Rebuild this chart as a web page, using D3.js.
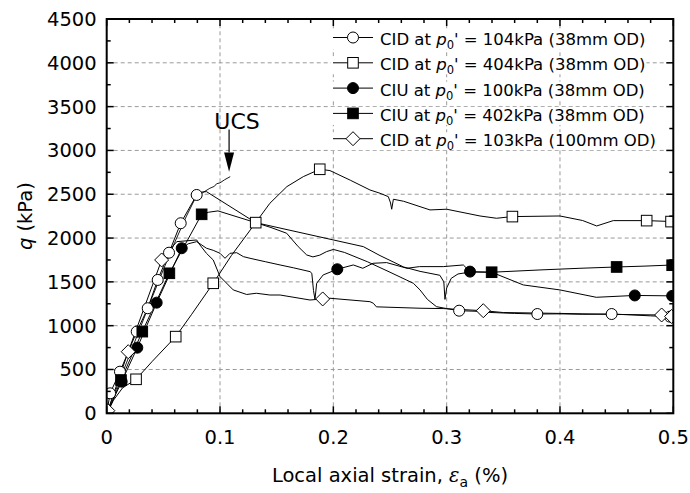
<!DOCTYPE html>
<html>
<head>
<meta charset="utf-8">
<script src="https://cdn.jsdelivr.net/npm/d3@7"></script>
<style>
  body { margin: 0; background: #fff; }
  text { font-family: "DejaVu Sans", Verdana, sans-serif; fill: #000; }
</style>
</head>
<body>
<svg id="chart" width="690" height="493"></svg>
<script>
// Axis ticks
const xTicks = [0, 0.1, 0.2, 0.3, 0.4, 0.5];
const yTicks = [0, 500, 1000, 1500, 2000, 2500, 3000, 3500, 4000, 4500];

// Legend entries: test type, confining pressure, specimen size
const legendTests = ["CID", "CID", "CIU", "CIU", "CID"];
const legendPressures = ["104kPa", "404kPa", "100kPa", "402kPa", "103kPa"];
const legendSizes = ["(38mm OD)", "(38mm OD)", "(38mm OD)", "(38mm OD)", "(100mm OD)"];

// Series: [local axial strain (%), q (kPa)]
const cid104Line = [[0,0],[0.003,228],[0.0117,475],[0.019,700],[0.0265,932],[0.0362,1199],[0.045,1522],[0.055,1833],[0.0653,2169],[0.0794,2492],[0.084,2525],[0.088,2530],[0.1,2432],[0.1315,2176],[0.145,2120],[0.1588,2055],[0.169,1902],[0.1765,1807],[0.182,1785],[0.188,1805],[0.194,1845],[0.2,1870],[0.21,1835],[0.23,1730],[0.25,1610],[0.2706,1484],[0.2765,1408],[0.283,1300],[0.291,1217],[0.3,1195],[0.311,1171],[0.325,1165],[0.34,1150],[0.36,1140],[0.38,1133],[0.4,1135],[0.42,1130],[0.4456,1133],[0.46,1125],[0.48,1112],[0.497,1103],[0.5,1090]];
const cid104Marks = [[0.003,228],[0.0117,475],[0.0265,932],[0.0362,1199],[0.045,1522],[0.055,1833],[0.0653,2169],[0.0794,2492],[0.311,1171],[0.38,1133],[0.4456,1133],[0.497,1103]];

const cid404Line = [[0,0],[0.006,150],[0.014,290],[0.0259,388],[0.04,590],[0.0609,875],[0.075,1130],[0.094,1484],[0.11,1800],[0.1315,2176],[0.144,2397],[0.159,2587],[0.1735,2701],[0.188,2785],[0.197,2770],[0.215,2660],[0.2323,2549],[0.2412,2511],[0.2485,2473],[0.2505,2400],[0.2515,2329],[0.253,2443],[0.262,2420],[0.2853,2321],[0.3,2329],[0.3294,2252],[0.344,2226],[0.358,2245],[0.4,2252],[0.42,2200],[0.4324,2138],[0.447,2199],[0.4765,2199],[0.5,2188]];
const cid404Marks = [[0.0259,388],[0.0609,875],[0.094,1484],[0.1315,2176],[0.188,2785],[0.358,2245],[0.4765,2199],[0.498,2188]];

const ciu100Line = [[0,0],[0.0132,361],[0.027,749],[0.0441,1263],[0.0662,1884],[0.072,1935],[0.0794,1959],[0.084,1920],[0.088,1884],[0.094,1860],[0.1,1826],[0.1044,1769],[0.1088,1826],[0.1147,1833],[0.1206,1788],[0.1265,1769],[0.14,1730],[0.153,1693],[0.165,1660],[0.1794,1617],[0.181,1598],[0.1825,1400],[0.1838,1300],[0.1853,1484],[0.191,1579],[0.2035,1644],[0.2176,1693],[0.226,1655],[0.235,1712],[0.247,1720],[0.265,1655],[0.276,1674],[0.297,1674],[0.3147,1693],[0.3206,1617],[0.3397,1610],[0.3676,1465],[0.4,1408],[0.432,1324],[0.466,1345],[0.5,1340]];
const ciu100Marks = [[0.0132,361],[0.027,749],[0.0441,1263],[0.0662,1884],[0.2035,1644],[0.3206,1617],[0.466,1345],[0.499,1340]];

const ciu402Line = [[0,0],[0.004,100],[0.0126,380],[0.0314,932],[0.0553,1598],[0.0838,2271],[0.09,2295],[0.0982,2310],[0.1315,2176],[0.2265,1902],[0.2412,1800],[0.262,1670],[0.2765,1620],[0.294,1575],[0.2975,1500],[0.2985,1300],[0.3,1430],[0.304,1540],[0.31,1590],[0.3206,1612],[0.3397,1610],[0.3823,1636],[0.4176,1655],[0.45,1670],[0.475,1680],[0.5,1693]];
const ciu402Marks = [[0.0126,380],[0.0314,932],[0.0553,1598],[0.0838,2271],[0.3397,1610],[0.45,1670],[0.499,1690]];

const cid103Line = [[0,0],[0.001,30],[0.019,703],[0.0485,1750],[0.0618,1959],[0.0794,1978],[0.0823,1921],[0.088,1826],[0.094,1750],[0.1,1560],[0.1117,1408],[0.1235,1356],[0.132,1370],[0.144,1350],[0.153,1350],[0.1794,1293],[0.1906,1305],[0.197,1313],[0.2323,1274],[0.2353,1256],[0.238,1215],[0.2765,1199],[0.297,1195],[0.3323,1171],[0.35,1150],[0.4,1140],[0.45,1128],[0.4897,1122],[0.4985,1105],[0.5,1080]];
const cid103Marks = [[0.001,30],[0.019,703],[0.0485,1750],[0.1906,1305],[0.3323,1171],[0.4897,1122],[0.4985,1105]];

// Unconfined compression test trace
const ucsLine = [[0,0],[0.01,330],[0.02,660],[0.03,990],[0.04,1320],[0.05,1640],[0.06,1950],[0.07,2240],[0.078,2450],[0.085,2520],[0.091,2568],[0.095,2590],[0.097,2620],[0.1,2630],[0.104,2665],[0.109,2701]];
// Annotation arrow: shaft top, head top and tip (strain, q)
const ucsArrow = { x: 0.108, top: 3240, head: 2975, tip: 2758 };

const svg = d3.select("#chart");
const W = 690, H = 493;
const m = { left: 106.7, right: 690 - 673.3, top: 19, bottom: 493 - 413.3 };

const x = d3.scaleLinear().domain([0, 0.5]).range([m.left, W - m.right]);
const y = d3.scaleLinear().domain([0, 4500]).range([H - m.bottom, m.top]);
const x0 = x.range()[0], x1 = x.range()[1], y0 = y.range()[0], y1 = y.range()[1];

svg.append("rect").attr("width", W).attr("height", H).attr("fill", "#fff");

// Grid
const grid = svg.append("g").attr("stroke", "#9a9a9a").attr("stroke-width", 1).attr("stroke-dasharray", "4,3");
xTicks.filter(d => d > 0 && d < 0.5).forEach(d => {
  grid.append("line").attr("x1", x(d)).attr("x2", x(d)).attr("y1", y0).attr("y2", y1);
});
yTicks.filter(d => d > 0 && d < 4500).forEach(d => {
  grid.append("line").attr("x1", x0).attr("x2", x1).attr("y1", y(d)).attr("y2", y(d));
});

// Clip to plot area
svg.append("clipPath").attr("id", "plotClip").append("rect")
  .attr("x", x0).attr("y", y1).attr("width", x1 - x0).attr("height", y0 - y1);
const plot = svg.append("g").attr("clip-path", "url(#plotClip)");

const line = d3.line().x(d => x(d[0])).y(d => y(d[1]));

// Marker shapes
function drawMarker(g, type, cx, cy) {
  const s = 5.3;
  if (type === "circle" || type === "dot") {
    g.append("circle").attr("cx", cx).attr("cy", cy).attr("r", 5.5)
      .attr("fill", type === "dot" ? "#000" : "#fff").attr("stroke", "#000").attr("stroke-width", 1);
  } else if (type === "square" || type === "block") {
    g.append("rect").attr("x", cx - s).attr("y", cy - s).attr("width", 2 * s).attr("height", 2 * s)
      .attr("fill", type === "block" ? "#000" : "#fff").attr("stroke", "#000").attr("stroke-width", 1);
  } else if (type === "diamond") {
    const d = 7;
    g.append("path").attr("d", `M${cx},${cy - d}L${cx + d},${cy}L${cx},${cy + d}L${cx - d},${cy}Z`)
      .attr("fill", "#fff").attr("stroke", "#000").attr("stroke-width", 1);
  }
}

const series = [
  { line: cid104Line, marks: cid104Marks, type: "circle" },
  { line: cid404Line, marks: cid404Marks, type: "square" },
  { line: ciu100Line, marks: ciu100Marks, type: "dot" },
  { line: ciu402Line, marks: ciu402Marks, type: "block" },
  { line: cid103Line, marks: cid103Marks, type: "diamond" }
];

plot.append("path").datum(ucsLine).attr("d", line)
  .attr("fill", "none").attr("stroke", "#000").attr("stroke-width", 0.9);

series.forEach(s => {
  plot.append("path").datum(s.line).attr("d", line)
    .attr("fill", "none").attr("stroke", "#000").attr("stroke-width", 1).attr("stroke-linejoin", "round");
});
series.forEach(s => {
  const g = plot.append("g");
  s.marks.forEach(p => drawMarker(g, s.type, x(p[0]), y(p[1])));
});

// UCS annotation
const ax = x(ucsArrow.x);
svg.append("line").attr("x1", ax).attr("x2", ax).attr("y1", y(ucsArrow.top)).attr("y2", y(ucsArrow.head))
  .attr("stroke", "#000").attr("stroke-width", 1.2);
svg.append("path")
  .attr("d", `M${ax - 5},${y(ucsArrow.head)}L${ax + 5},${y(ucsArrow.head)}L${ax},${y(ucsArrow.tip)}Z`)
  .attr("fill", "#000");
svg.append("text").attr("x", ax + 8).attr("y", y(ucsArrow.top) - 0.5)
  .attr("text-anchor", "middle").attr("font-size", 22).text("UCS");

// Frame and ticks (inward, all four sides)
const ticks = svg.append("g").attr("stroke", "#000").attr("stroke-width", 1.5);
const xMinor = d3.range(0, 0.5001, 0.02).map(v => +v.toFixed(2));
const yMinor = d3.range(0, 4501, 250);
xMinor.forEach(v => {
  const major = xTicks.some(t => Math.abs(t - v) < 1e-6);
  const len = major ? 7 : 4;
  ticks.append("line").attr("x1", x(v)).attr("x2", x(v)).attr("y1", y0).attr("y2", y0 - len);
  ticks.append("line").attr("x1", x(v)).attr("x2", x(v)).attr("y1", y1).attr("y2", y1 + len);
});
yMinor.forEach(v => {
  const major = yTicks.includes(v);
  const len = major ? 7 : 4;
  ticks.append("line").attr("x1", x0).attr("x2", x0 + len).attr("y1", y(v)).attr("y2", y(v));
  ticks.append("line").attr("x1", x1).attr("x2", x1 - len).attr("y1", y(v)).attr("y2", y(v));
});
svg.append("rect").attr("x", x0).attr("y", y1).attr("width", x1 - x0).attr("height", y0 - y1)
  .attr("fill", "none").attr("stroke", "#000").attr("stroke-width", 2);

// Tick labels
const fmtX = d => d === 0 ? "0" : d3.format(".1f")(d);
svg.append("g").selectAll("text").data(xTicks).join("text")
  .attr("x", d => x(d)).attr("y", y0 + 31).attr("text-anchor", "middle")
  .attr("font-size", 19.5).text(fmtX);
svg.append("g").selectAll("text").data(yTicks).join("text")
  .attr("x", x0 - 10).attr("y", d => y(d) + 7).attr("text-anchor", "end")
  .attr("font-size", 19.5).text(d => d);

// Axis titles
const xt = svg.append("text").attr("x", (x0 + x1) / 2).attr("y", 482)
  .attr("text-anchor", "middle").attr("font-size", 19.5);
xt.append("tspan").text("Local axial strain, ");
xt.append("tspan").attr("font-style", "italic").attr("font-family", "'DejaVu Serif', serif").text("ε");
xt.append("tspan").attr("font-size", 14).attr("dy", 5).text("a");
xt.append("tspan").attr("dy", -5).text(" (%)");

const yt = svg.append("text").attr("transform", `translate(32,${(y0 + y1) / 2}) rotate(-90)`)
  .attr("text-anchor", "middle").attr("font-size", 19.5);
yt.append("tspan").attr("font-style", "italic").text("q");
yt.append("tspan").text(" (kPa)");

// Legend
const legendTypes = ["circle", "square", "dot", "block", "diamond"];
const lg = svg.append("g");
legendTests.forEach((t, i) => {
  const base = 45 + i * 25.3;
  const cy = base - 7.5;
  const txt = lg.append("text").attr("x", 380).attr("y", base).attr("font-size", 16.5);
  txt.append("tspan").text(t + " at ");
  txt.append("tspan").attr("font-style", "italic").text("p");
  txt.append("tspan").attr("font-size", 11.5).attr("dy", 4).text("0");
  txt.append("tspan").attr("dy", -4).text("' = " + legendPressures[i] + " " + legendSizes[i]);
  const bb = txt.node().getBBox();
  lg.insert("rect", "text").attr("x", 331).attr("y", base - 14).attr("width", bb.x + bb.width - 331 + 1)
    .attr("height", 18).attr("fill", "#fff");
  lg.append("line").attr("x1", 333).attr("x2", 373).attr("y1", cy).attr("y2", cy)
    .attr("stroke", "#000").attr("stroke-width", 1);
  drawMarker(lg, legendTypes[i], 353, cy);
});
</script>
</body>
</html>
